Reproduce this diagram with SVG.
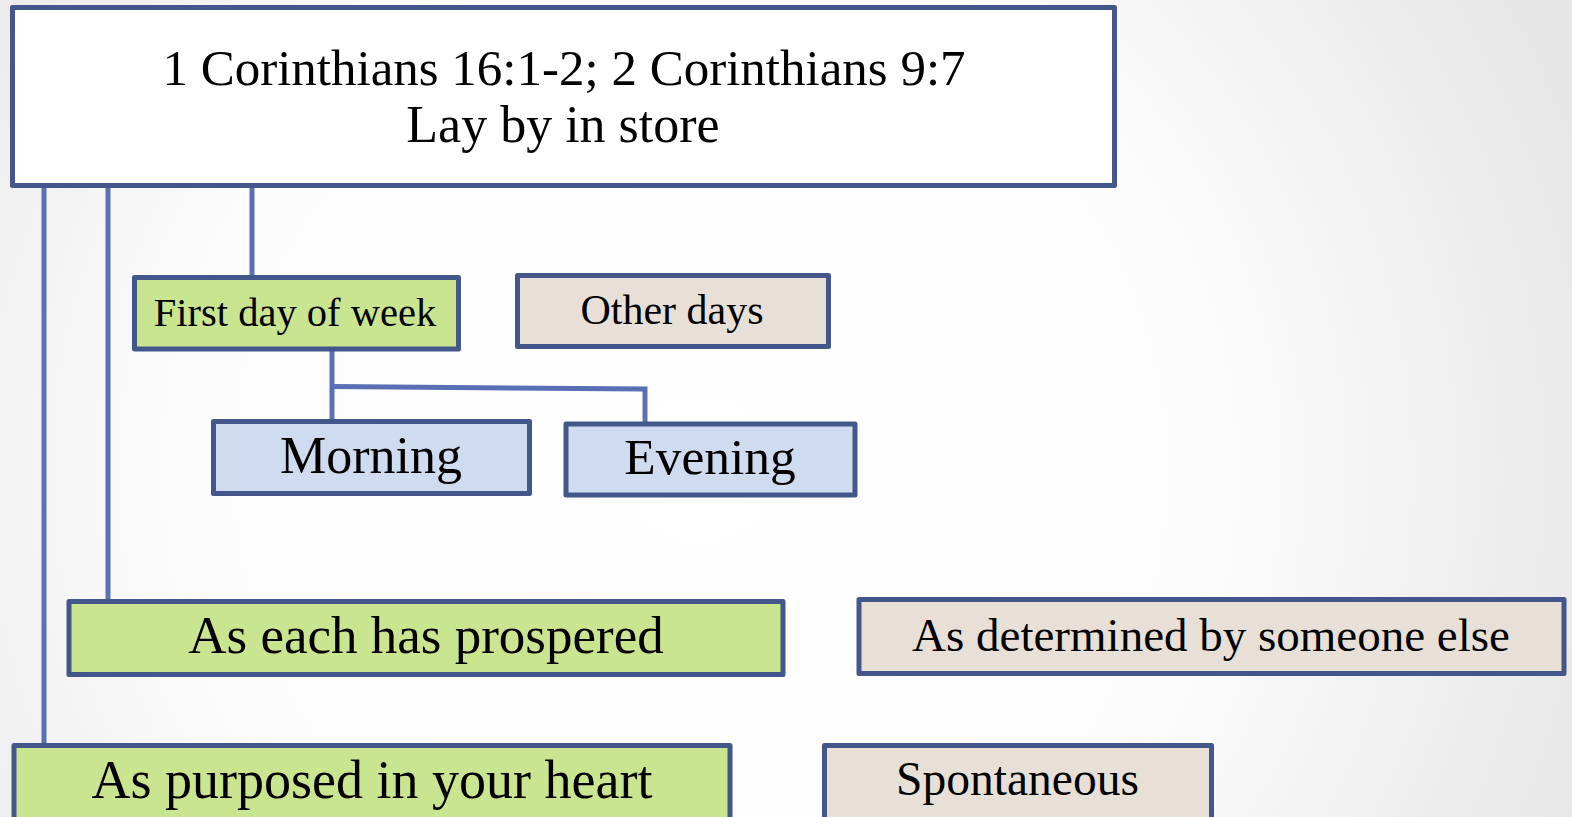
<svg xmlns="http://www.w3.org/2000/svg" width="1572" height="817" viewBox="0 0 1572 817">
<defs>
<radialGradient id="bg" cx="700" cy="470" r="950" gradientUnits="userSpaceOnUse">
<stop offset="0" stop-color="#ffffff"/>
<stop offset="0.55" stop-color="#fcfcfc"/>
<stop offset="1" stop-color="#e6e6e6"/>
</radialGradient>
</defs>
<style>
.box{stroke:#44578a;stroke-width:5;stroke-linejoin:round}
.w{fill:#ffffff}
.g{fill:#c9e590}
.b{fill:#e8e0d7}
.l{fill:#cfdcef}
.t{font-family:"Liberation Serif","Times New Roman",serif;fill:#000;text-anchor:middle}
.c{fill:none;stroke:#5a70b4;stroke-width:5}
</style>
<rect width="1572" height="817" fill="url(#bg)"/>
<g id="connectors">
<path class="c" d="M44 188 V745"/>
<path class="c" d="M108 188 V601"/>
<path class="c" d="M252 188 V277"/>
<path class="c" d="M332 350 V421"/>
<path class="c" d="M332 386.5 L645 389 V424"/>
</g>
<g id="top">
<rect class="box w" x="12.5" y="7.5" width="1102" height="178"/>
<text class="t" x="564" y="85" font-size="51">1 Corinthians 16:1-2; 2 Corinthians 9:7</text>
<text class="t" x="563" y="142" font-size="52">Lay by in store</text>
</g>
<g id="first-day">
<rect class="box g" x="134.5" y="277.5" width="324" height="71.5"/>
<text class="t" x="295" y="326" font-size="40.5">First day of week</text>
</g>
<g id="other-days">
<rect class="box b" x="517.5" y="275.5" width="311" height="71"/>
<text class="t" x="672" y="324" font-size="42">Other days</text>
</g>
<g id="morning">
<rect class="box l" x="213.5" y="421.5" width="316" height="72"/>
<text class="t" x="371" y="473" font-size="52">Morning</text>
</g>
<g id="evening">
<rect class="box l" x="566" y="424" width="289" height="71"/>
<text class="t" x="710" y="474" font-size="51.5">Evening</text>
</g>
<g id="as-each">
<rect class="box g" x="69" y="601.5" width="714" height="73"/>
<text class="t" x="426" y="653" font-size="53">As each has prospered</text>
</g>
<g id="as-determined">
<rect class="box b" x="859" y="599.5" width="705" height="74"/>
<text class="t" x="1211" y="651" font-size="47">As determined by someone else</text>
</g>
<g id="as-purposed">
<rect class="box g" x="14" y="745.5" width="716" height="85"/>
<text class="t" x="372" y="798" font-size="54">As purposed in your heart</text>
</g>
<g id="spontaneous">
<rect class="box b" x="824.5" y="745.5" width="387" height="85"/>
<text class="t" x="1017.5" y="795" font-size="47.5">Spontaneous</text>
</g>
</svg>
